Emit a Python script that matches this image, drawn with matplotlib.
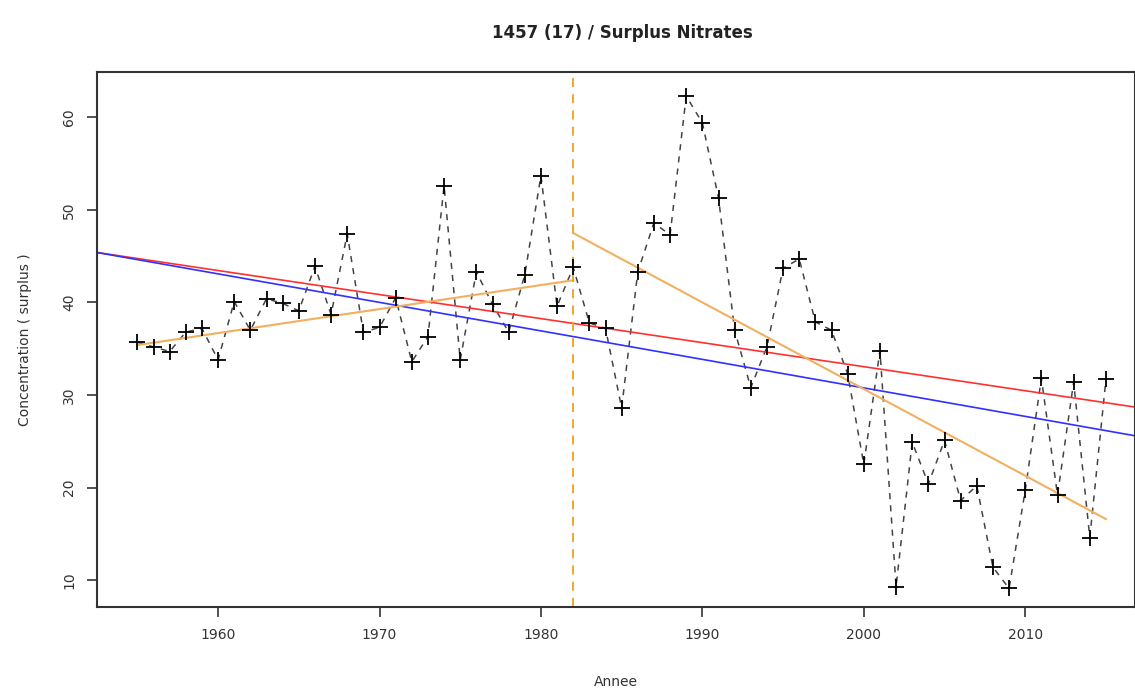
import numpy as np
import matplotlib
matplotlib.use('Agg')
import matplotlib.pyplot as plt

years = np.arange(1955, 2016)
conc = [35.7, 35.2, 34.7, 36.8, 37.2, 33.8, 40.1, 37.0, 40.4, 39.9,
        39.1, 43.9, 38.7, 47.4, 36.8, 37.3, 40.5, 33.6, 36.3, 52.6,
        33.8, 43.3, 39.8, 36.8, 43.0, 53.7, 39.6, 43.8, 37.8, 37.2,
        28.6, 43.3, 48.6, 47.3, 62.3, 59.4, 51.3, 37.0, 30.8, 35.2,
        43.7, 44.7, 37.9, 37.0, 32.3, 22.5, 34.8, 9.3, 24.9, 20.4,
        25.1, 18.6, 20.2, 11.4, 9.1, 19.7, 31.8, 19.2, 31.4, 14.6, 31.7]

# trend lines (endpoints)
red_x, red_y = [1952.5, 2016.8], [45.4, 28.7]
blue_x, blue_y = [1952.5, 2016.8], [45.4, 25.6]
seg1_x, seg1_y = [1955, 1982], [35.4, 42.4]
seg2_x, seg2_y = [1982, 2015], [47.5, 16.6]
rupture = 1982

fig = plt.figure(figsize=(11.35, 6.96), dpi=100)
ax = fig.add_axes([97/1135, 89/696, 1 - 97/1135, 535/696])

ax.plot(years, conc, color='#444444', linestyle=(0, (4, 4)), lw=1.1, zorder=2)
ax.plot(years, conc, linestyle='none', marker='+', color='black', ms=12, mew=1.3, zorder=3)
ax.plot(red_x, red_y, color='#ff3030', lw=1.2)
ax.plot(blue_x, blue_y, color='#3030ff', lw=1.2)
ax.plot(seg1_x, seg1_y, color='#f0b060', lw=1.5)
ax.plot(seg2_x, seg2_y, color='#f0b060', lw=1.5)
ax.axvline(rupture, color='#f0a020', linestyle=(0, (5, 4)), lw=1.3)

ax.set_xlim(1952.5, 2016.8)
ax.set_ylim(7.1, 64.9)
ax.set_xticks([1960, 1970, 1980, 1990, 2000, 2010])
ax.set_yticks([10, 20, 30, 40, 50, 60])
ax.tick_params(labelsize=10, length=7, width=1.2, colors='#333333', pad=8)
plt.setp(ax.get_yticklabels(), rotation=90, va='center')
for s in ax.spines.values():
    s.set_linewidth(1.5)
    s.set_color('#333333')

ax.set_xlabel('Annee', fontsize=10, labelpad=24, color='#333333')
ax.set_ylabel('Concentration ( surplus )', fontsize=10, labelpad=22, color='#333333')
fig.text(0.548, 0.953, '1457 (17) / Surplus Nitrates', ha='center', va='center',
         fontsize=12, fontweight='bold', color='#222222')

fig.savefig('out.png', dpi=100)
